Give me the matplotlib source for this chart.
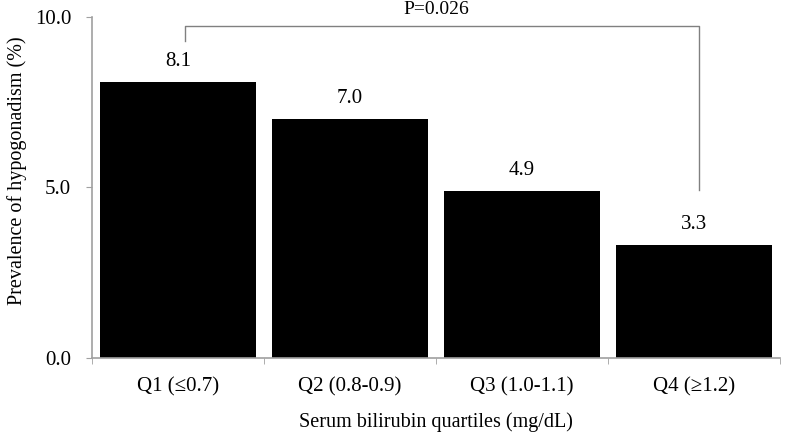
import matplotlib
matplotlib.use("Agg")
import matplotlib.pyplot as plt
import numpy as np

categories = ["Q1 (\u22640.7)", "Q2 (0.8-0.9)", "Q3 (1.0-1.1)", "Q4 (\u22651.2)"]
values = [8.1, 7.0, 4.9, 3.3]
p_label = "P=0.026"

plt.rcParams["font.family"] = ["Liberation Serif", "DejaVu Serif"]
plt.rcParams["font.size"] = 15

fig = plt.figure(figsize=(7.86, 4.38), dpi=100)
ax = fig.add_axes([0.117, 0.183, 0.875, 0.778])

x = np.arange(len(categories))
ax.bar(x, values, width=0.91, color="black")
for xi, v in zip(x, values):
    ax.annotate(f"{v:.1f}", (xi, v), xytext=(0, 8), textcoords="offset points",
                ha="center", va="bottom", fontsize=15)

ax.set_xlim(-0.5, len(categories) - 0.5)
ax.set_ylim(0, 10)
ax.set_yticks([0, 5, 10])
ax.set_yticklabels([f"{t:.1f}" for t in [0, 5, 10]])
ax.set_xticks(x)
ax.set_xticklabels(categories)
ax.set_xticks(np.arange(-0.5, len(categories)), minor=True)
ax.tick_params(axis="x", which="major", length=0, pad=14)
ax.tick_params(axis="x", which="minor", length=4, color="#a0a0a0")
ax.tick_params(axis="y", length=4, color="#a0a0a0", pad=11)

for s in ["top", "right"]:
    ax.spines[s].set_visible(False)
for s in ["left", "bottom"]:
    ax.spines[s].set_color("#a0a0a0")
    ax.spines[s].set_linewidth(1.2)

ax.set_ylabel("Prevalence of hypogonadism (%)", fontsize=14.5)
ax.yaxis.set_label_coords(-0.094, 0.55)
ax.set_xlabel("Serum bilirubin quartiles (mg/dL)", fontsize=14.5, va="center")
ax.xaxis.set_label_coords(0.5, -0.19)

# significance bracket Q1 vs Q4
ax.plot([0.04, 0.04, 3.03, 3.03], [9.3, 9.73, 9.73, 4.93], color="#808080", lw=1.0, clip_on=False)
ax.text(1.5, 10.22, p_label, ha="center", va="center", fontsize=14)

fig.savefig("out.png", dpi=100)
